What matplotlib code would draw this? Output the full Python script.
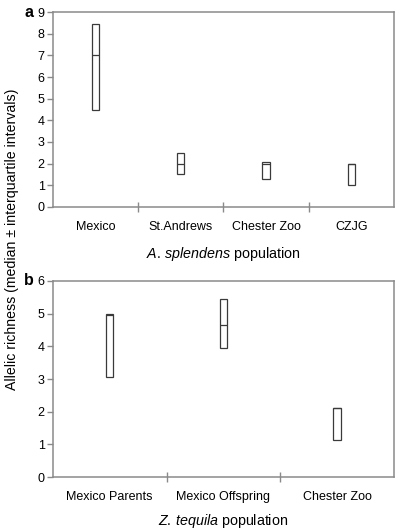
import matplotlib
matplotlib.use("Agg")
import matplotlib.pyplot as plt
import numpy as np

plt.rcParams["font.family"] = ["Liberation Sans", "DejaVu Sans"]
plt.rcParams["mathtext.fontset"] = "custom"
plt.rcParams["mathtext.rm"] = "Liberation Sans"
plt.rcParams["mathtext.it"] = "Liberation Sans:italic"

# panel a: A. splendens
pops_a = ["Mexico", "St.Andrews", "Chester Zoo", "CZJG"]
low_a = [4.5, 1.5, 1.3, 1.0]
med_a = [7.0, 2.0, 2.0, 2.0]
high_a = [8.45, 2.5, 2.05, 2.0]

# panel b: Z. tequila
pops_b = ["Mexico Parents", "Mexico Offspring", "Chester Zoo"]
low_b = [3.05, 3.95, 1.15]
med_b = [4.95, 4.65, 2.1]
high_b = [4.98, 5.45, 2.12]

SPINE = "#8a8a8a"
EDGE = "#3a3a3a"


def panel(ax, pops, low, med, high, ymax, width, xlabel, labelpad):
    n = len(pops)
    x = np.arange(n)
    low = np.array(low)
    high = np.array(high)
    ax.bar(x, high - low, bottom=low, width=width, color="white",
           edgecolor=EDGE, linewidth=0.9, zorder=3)
    ax.hlines(med, x - width / 2, x + width / 2, colors=EDGE,
              linewidth=0.9, zorder=4)
    ax.set_xlim(-0.5, n - 0.5)
    ax.set_ylim(0, ymax)
    ax.set_yticks(np.arange(0, ymax + 1))
    ax.set_xticks(np.arange(n - 1) + 0.5)
    ax.set_xticklabels([])
    ax.set_xticks(x, minor=True)
    ax.set_xticklabels(pops, minor=True)
    ax.tick_params(axis="x", which="major", direction="inout", length=7,
                   width=1, color=SPINE)
    ax.tick_params(axis="x", which="minor", length=0, pad=10, labelsize=9)
    ax.tick_params(axis="y", direction="out", length=4, width=1,
                   color=SPINE, labelsize=9, pad=2)
    for s in ax.spines.values():
        s.set_color(SPINE)
        s.set_linewidth(1.1)
    ax.set_xlabel(xlabel, fontsize=10.3, labelpad=labelpad)


fig = plt.figure(figsize=(3.95, 5.29), dpi=100)
ax_a = fig.add_axes([0.134, 0.609, 0.863, 0.368])
ax_b = fig.add_axes([0.134, 0.098, 0.863, 0.371])

panel(ax_a, pops_a, low_a, med_a, high_a, 9, 0.085,
      r"$\mathit{A.\,splendens}$ population", 8.5)
panel(ax_b, pops_b, low_b, med_b, high_b, 6, 0.065,
      r"$\mathit{Z.\,tequila}$ population", 6.5)

fig.text(0.073, 0.977, "a", fontsize=11.5, fontweight="bold",
         ha="center", va="center")
fig.text(0.073, 0.469, "b", fontsize=11.5, fontweight="bold",
         ha="center", va="center")
fig.text(0.03, 0.548, "Allelic richness (median \u00b1 interquartile intervals)",
         rotation=90, fontsize=10.2, ha="center", va="center")

fig.savefig("out.png", dpi=100)
